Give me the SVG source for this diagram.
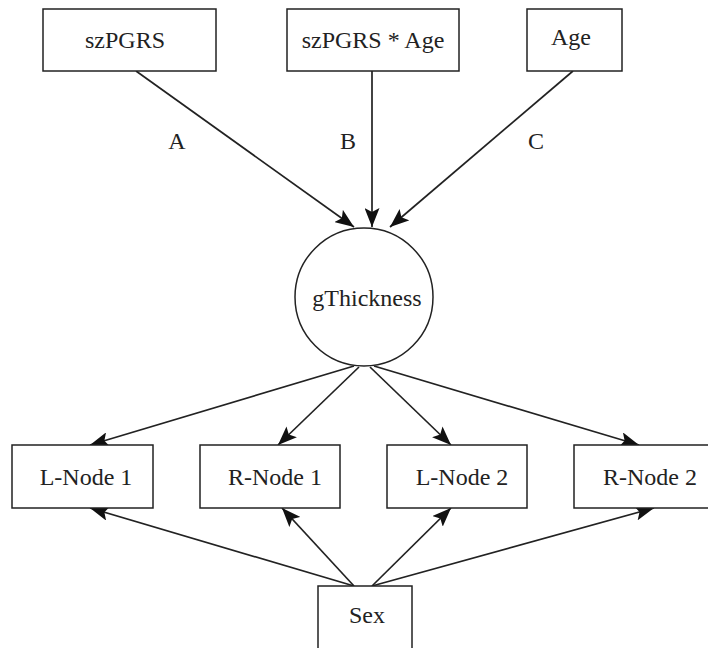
<svg xmlns="http://www.w3.org/2000/svg" width="708" height="648" viewBox="0 0 708 648">
<style>
.box{fill:#fff;stroke:#222;stroke-width:1.5}
.t{font-family:"Liberation Serif","DejaVu Serif",serif;font-size:24px;fill:#222;text-anchor:middle}
.e{stroke:#222;stroke-width:1.7;fill:none;marker-end:url(#ah)}
</style>
<defs>
<marker id="ah" viewBox="0 0 19 15" refX="19" refY="7.5" markerWidth="19" markerHeight="15" markerUnits="userSpaceOnUse" orient="auto">
<path d="M0,0 L19,7.5 L0,15 L4,7.5 Z" fill="#111"/>
</marker>
</defs>
<rect width="708" height="648" fill="#fff"/>
<g id="connectors">
<line class="e" x1="136" y1="71" x2="354" y2="227"/>
<line class="e" x1="372" y1="71" x2="372" y2="227"/>
<line class="e" x1="573" y1="71" x2="390" y2="227"/>
<line class="e" x1="354" y1="366" x2="90" y2="445"/>
<line class="e" x1="359" y1="367" x2="278" y2="445"/>
<line class="e" x1="370" y1="367" x2="451" y2="445"/>
<line class="e" x1="374" y1="366" x2="639" y2="445"/>
<line class="e" x1="354" y1="586" x2="90" y2="508"/>
<line class="e" x1="354" y1="586" x2="282" y2="508"/>
<line class="e" x1="372" y1="586" x2="451" y2="508"/>
<line class="e" x1="372" y1="586" x2="654" y2="508"/>
<text class="t" x="177" y="149">A</text>
<text class="t" x="348" y="149">B</text>
<text class="t" x="536" y="149">C</text>
</g>
<g id="szPGRS"><rect class="box" x="43" y="9" width="173" height="62"/><text class="t" x="125" y="48">szPGRS</text></g>
<g id="szPGRS_Age"><rect class="box" x="287" y="9" width="172" height="62"/><text class="t" x="373" y="48">szPGRS * Age</text></g>
<g id="Age"><rect class="box" x="527" y="9" width="95" height="62"/><text class="t" x="571" y="45">Age</text></g>
<g id="gThickness"><circle class="box" cx="364" cy="297" r="69"/><text class="t" x="367" y="306">gThickness</text></g>
<g id="LNode1"><rect class="box" x="12" y="445" width="141" height="63"/><text class="t" x="86" y="485">L-Node 1</text></g>
<g id="RNode1"><rect class="box" x="200" y="445" width="140" height="63"/><text class="t" x="275" y="485">R-Node 1</text></g>
<g id="LNode2"><rect class="box" x="387" y="445" width="140" height="63"/><text class="t" x="462" y="485">L-Node 2</text></g>
<g id="RNode2"><rect class="box" x="574" y="445" width="142" height="63"/><text class="t" x="650" y="485">R-Node 2</text></g>
<g id="Sex"><rect class="box" x="318" y="586" width="94" height="66"/><text class="t" x="367" y="623">Sex</text></g>
</svg>
